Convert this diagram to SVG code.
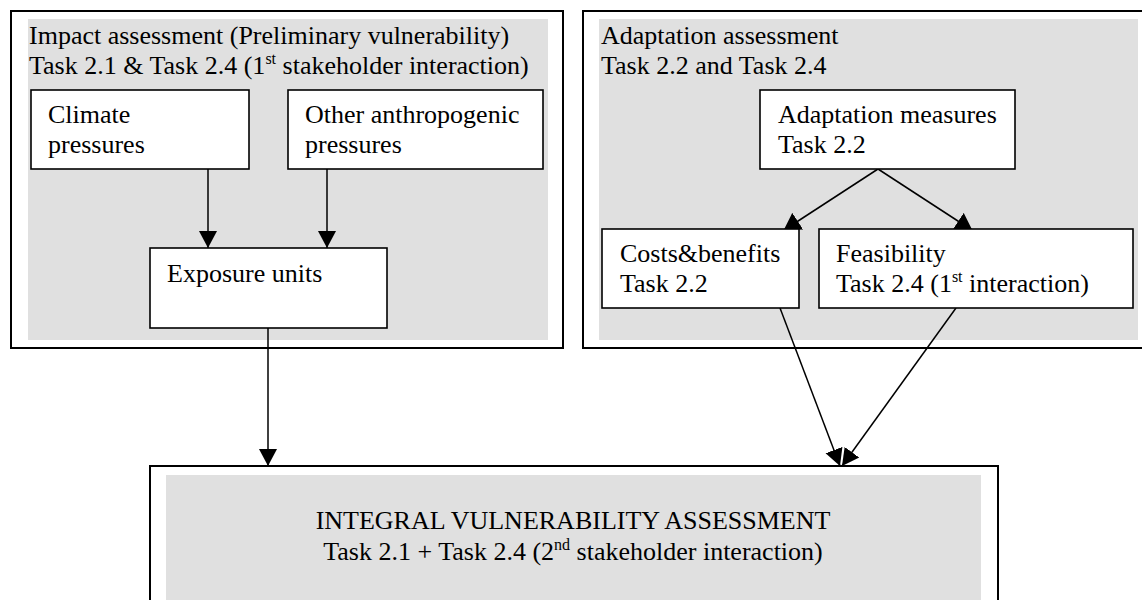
<svg xmlns="http://www.w3.org/2000/svg" width="1142" height="600" viewBox="0 0 1142 600">
  <style>
    .frame { fill: #ffffff; stroke: #000000; stroke-width: 2; }
    .panel { fill: #e0e0e0; stroke: none; }
    .box { fill: #ffffff; stroke: #000000; stroke-width: 1.6; }
    text { font-family: 'Liberation Serif', 'Times New Roman', Times, 'DejaVu Serif', serif; font-size: 26px; fill: #000000; }
    .sup { font-size: 16px; }
    .conn { stroke: #000000; stroke-width: 1.5; fill: none; }
  </style>
  <defs>
    <marker id="ah" markerUnits="userSpaceOnUse" viewBox="-17 -10 17 20" markerWidth="17" markerHeight="20" refX="0" refY="0" orient="auto">
      <path d="M0,0 L-17,-9 L-17,9 Z" fill="#000000"/>
    </marker>
    <marker id="ahw" markerUnits="userSpaceOnUse" viewBox="-17 -10 17 20" markerWidth="17" markerHeight="20" refX="0" refY="0" orient="auto">
      <path d="M0,0 L-17,-10 L-17,10 Z" fill="#000000"/>
    </marker>
  </defs>

  <!-- background frames and panels -->
  <g id="impact-assessment">
    <rect class="frame" x="11" y="11" width="552" height="337"/>
    <rect class="panel" x="28" y="19" width="520" height="321"/>
    <text x="29" y="44">Impact assessment (Preliminary vulnerability)</text>
    <text x="29" y="74">Task 2.1 &amp; Task 2.4 (1<tspan class="sup" dy="-10">st</tspan><tspan dy="10"> stakeholder interaction)</tspan></text>
  </g>

  <g id="adaptation-assessment">
    <rect class="frame" x="583" y="11" width="570" height="337"/>
    <rect class="panel" x="599" y="19" width="539" height="321"/>
    <text x="601" y="44">Adaptation assessment</text>
    <text x="601" y="74">Task 2.2 and Task 2.4</text>
  </g>

  <g id="integral-assessment">
    <rect class="frame" x="150" y="466" width="848" height="150"/>
    <rect class="panel" x="166" y="475" width="815" height="130"/>
    <text x="573" y="529" text-anchor="middle">INTEGRAL VULNERABILITY ASSESSMENT</text>
    <text x="573" y="560" text-anchor="middle">Task 2.1 + Task 2.4 (2<tspan class="sup" dy="-10">nd</tspan><tspan dy="10"> stakeholder interaction)</tspan></text>
  </g>

  <!-- connectors -->
  <g id="connectors">
    <line class="conn" x1="208" y1="169" x2="208" y2="248" marker-end="url(#ah)"/>
    <line class="conn" x1="327" y1="169" x2="327" y2="248" marker-end="url(#ah)"/>
    <line class="conn" x1="268" y1="328" x2="268" y2="466" marker-end="url(#ah)"/>
    <line class="conn" x1="878" y1="169" x2="783.5" y2="230.5" marker-end="url(#ahw)"/>
    <line class="conn" x1="878" y1="169" x2="972.5" y2="230.5" marker-end="url(#ahw)"/>
    <line class="conn" x1="780" y1="308" x2="840" y2="466" marker-end="url(#ah)"/>
    <line class="conn" x1="956" y1="308" x2="842" y2="466" marker-end="url(#ah)"/>
  </g>

  <!-- nodes -->
  <g id="climate-pressures">
    <rect class="box" x="31" y="90" width="218" height="79"/>
    <text x="48" y="123">Climate</text>
    <text x="48" y="153">pressures</text>
  </g>
  <g id="other-pressures">
    <rect class="box" x="288" y="90" width="255" height="79"/>
    <text x="305" y="123">Other anthropogenic</text>
    <text x="305" y="153">pressures</text>
  </g>
  <g id="exposure-units">
    <rect class="box" x="150" y="248" width="237" height="80"/>
    <text x="167" y="282">Exposure units</text>
  </g>
  <g id="adaptation-measures">
    <rect class="box" x="760" y="90" width="255" height="79"/>
    <text x="778" y="123">Adaptation measures</text>
    <text x="778" y="153">Task 2.2</text>
  </g>
  <g id="costs-benefits">
    <rect class="box" x="602" y="229" width="197" height="79"/>
    <text x="620" y="262">Costs&amp;benefits</text>
    <text x="620" y="292">Task 2.2</text>
  </g>
  <g id="feasibility">
    <rect class="box" x="819" y="229" width="314" height="79"/>
    <text x="836" y="262">Feasibility</text>
    <text x="836" y="292">Task 2.4 (1<tspan class="sup" dy="-10">st</tspan><tspan dy="10"> interaction)</tspan></text>
  </g>
</svg>
